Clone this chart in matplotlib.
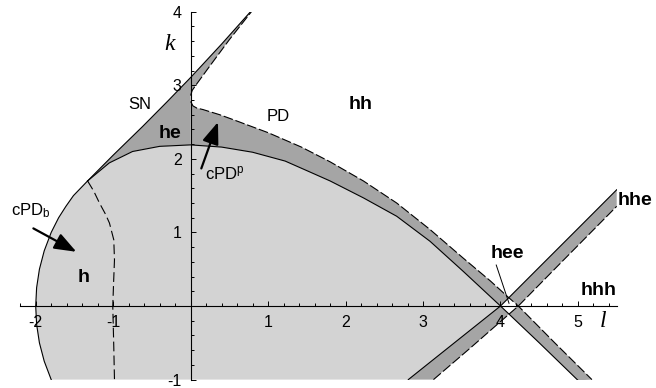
import numpy as np
import matplotlib.pyplot as plt
from matplotlib.path import Path
from matplotlib.patches import PathPatch, Polygon
from matplotlib.ticker import MultipleLocator

plt.rcParams['font.family'] = ['Liberation Sans', 'DejaVu Sans']
plt.rcParams['mathtext.default'] = 'regular'
plt.rcParams['lines.scale_dashes'] = False

# boundary curves in the (l, k) plane
# left arc of the h region
arc_l = [-1.80, -1.89, -1.952, -1.988, -2.0, -1.988, -1.952, -1.89, -1.80, -1.704, -1.61, -1.513, -1.33]
arc_k = [-1.0, -0.75, -0.5, -0.25, 0.0, 0.25, 0.5, 0.75, 1.0, 1.2, 1.355, 1.5, 1.70]

# saddle-node line
sn_l = [-1.33, -1.0, -0.62, -0.3, 0.0, 0.4, 0.79]
sn_k = [1.70, 2.05, 2.44, 2.78, 3.106, 3.56, 4.02]

# upper edge of the h region (solid)
sa_l = [-1.33, -1.05, -0.75, -0.4, 0.0, 0.4, 0.8, 1.22, 1.5, 1.8, 2.23, 2.66, 3.09, 3.52, 4.0, 4.5, 5.0]
sa_k = [1.70, 1.945, 2.10, 2.17, 2.19, 2.16, 2.09, 1.97, 1.84, 1.70, 1.47, 1.22, 0.88, 0.47, 0.0, -0.50, -1.01]

# period doubling curve PD (dashed)
pd_l = [0.0, 0.03, 0.08, 0.16, 0.375, 0.57, 1.0, 1.43, 1.8, 2.23, 2.66, 3.09, 3.52, 3.87, 4.1, 4.23, 4.7, 5.18]
pd_k = [2.78, 2.72, 2.69, 2.67, 2.60, 2.525, 2.356, 2.16, 1.96, 1.70, 1.40, 1.04, 0.65, 0.34, 0.12, 0.0, -0.50, -1.0]

# dashed curve next to SN
up_l = [0.0, 0.02, 0.08, 0.25, 0.50, 0.80]
up_k = [2.86, 2.93, 3.02, 3.265, 3.62, 4.02]

# second band through l = 4 (solid and dashed edges)
sb_l = [2.81, 3.2, 3.6, 4.0, 4.5, 5.0, 5.5]
sb_k = [-1.0, -0.672, -0.336, 0.0, 0.527, 1.053, 1.58]
db_l = [3.135, 3.6, 4.23, 4.8, 5.5]
db_k = [-1.0, -0.58, 0.0, 0.61, 1.355]

# cPD_b curve
cb_l = [-1.33, -1.25, -1.177, -1.10, -1.048, -0.992, -0.983, -0.995, -1.005, -0.992, -0.983]
cb_k = [1.70, 1.56, 1.40, 1.25, 1.128, 0.90, 0.628, 0.30, 0.0, -0.555, -1.0]

LIGHT = '#d3d3d3'
DARK = '#a5a5a5'


def pts(l, k):
    return np.column_stack([l, k])


def area(p):
    x, y = p[:, 0], p[:, 1]
    return 0.5 * np.sum(x * np.roll(y, -1) - np.roll(x, -1) * y)


arc = pts(arc_l, arc_k)
sn = pts(sn_l, sn_k)
sa = pts(sa_l, sa_k)
pd = pts(pd_l, pd_k)
up = pts(up_l, up_k)
sb = pts(sb_l, sb_k)
db = pts(db_l, db_k)

fig = plt.figure(figsize=(6.56, 3.88), dpi=100)
ax = fig.add_axes([20.2 / 656, 8.4 / 388, 596.5 / 656, 367.9 / 388])
ax.set_xlim(-2.2, 5.5)
ax.set_ylim(-1, 4)

# he region left of the k axis
he = np.vstack([sn, up[::-1], sa[sa[:, 0] <= 0][::-1]])
ax.add_patch(Polygon(he, closed=True, facecolor=DARK, edgecolor='none'))

# h region
h = np.vstack([arc, sa[(sa[:, 0] > -1.33) & (sa[:, 0] <= 4.0)],
               sb[sb[:, 0] < 4.0][::-1]])
ax.add_patch(Polygon(h, closed=True, facecolor=LIGHT, edgecolor='none'))

# the two bands, opposite orientation so their overlap stays empty
band_a = np.vstack([pd, sa[sa[:, 0] >= 0][::-1]])
band_b = np.vstack([sb, db[::-1]])
if np.sign(area(band_a)) == np.sign(area(band_b)):
    band_b = band_b[::-1]
verts = np.vstack([band_a, band_a[:1], band_b, band_b[:1]])
codes = ([Path.MOVETO] + [Path.LINETO] * (len(band_a) - 1) + [Path.CLOSEPOLY]
         + [Path.MOVETO] + [Path.LINETO] * (len(band_b) - 1) + [Path.CLOSEPOLY])
ax.add_patch(PathPatch(Path(verts, codes), facecolor=DARK, edgecolor='none'))

# boundary lines
lw = 0.8
ax.plot(arc_l, arc_k, color='black', lw=lw)
ax.plot(sn_l, sn_k, color='black', lw=lw)
ax.plot(sa_l, sa_k, color='black', lw=lw)
ax.plot(sb_l, sb_k, color='black', lw=lw)
dash = (0, (7, 2))
ax.plot(pd_l, pd_k, color='black', lw=lw, linestyle=dash)
ax.plot(up_l, up_k, color='black', lw=lw, linestyle=dash)
ax.plot(db_l, db_k, color='black', lw=lw, linestyle=dash)
ax.plot(cb_l, cb_k, color='black', lw=lw, linestyle=(0, (7, 3)))

# axes through the origin
for side in ['top', 'right']:
    ax.spines[side].set_visible(False)
ax.spines['left'].set_position(('data', 0))
ax.spines['bottom'].set_position(('data', 0))
for side in ['left', 'bottom']:
    ax.spines[side].set_linewidth(0.8)
    ax.spines[side].set_zorder(5)
ax.patch.set_visible(False)

ax.set_xticks([-2, -1, 1, 2, 3, 4, 5])
ax.set_xticklabels(['-2', '-1', '1', '2', '3', '4', '5'])
ax.set_yticks([-1, 1, 2, 3, 4])
ax.set_yticklabels(['-1', '1', '2', '3', '4'])
ax.xaxis.set_minor_locator(MultipleLocator(0.2))
ax.yaxis.set_minor_locator(MultipleLocator(0.2))
ax.tick_params(which='both', direction='in', width=0.7, color='black')
ax.tick_params(which='major', length=3.6, labelsize=11.5, pad=6.5)
ax.tick_params(which='minor', length=2.2)

# axis names
ax.text(-0.27, 3.55, 'k', family='Liberation Serif', style='italic', fontsize=17,
        ha='center', va='center')
ax.text(5.32, -0.21, 'l', family='Liberation Serif', style='italic', fontsize=17,
        ha='center', va='center')

# curve names
ax.text(-0.66, 2.745, 'SN', fontsize=12, ha='center', va='center')
ax.text(1.13, 2.57, 'PD', fontsize=12, ha='center', va='center')
ax.text(-2.06, 1.30, 'cPD$_b$', fontsize=12, ha='center', va='center')
ax.text(0.44, 1.80, 'cPD$^p$', fontsize=12, ha='center', va='center')

# region names
bold = dict(fontsize=14, fontweight='bold', ha='center', va='center')
ax.text(-0.26, 2.34, 'he', **bold)
ax.text(2.2, 2.745, 'hh', **bold)
ax.text(-1.38, 0.39, 'h', **bold)
ax.text(4.09, 0.716, 'hee', **bold)
ax.text(5.73, 1.44, 'hhe', **bold)
ax.text(5.27, 0.217, 'hhh', **bold)

# pointers
arrow = dict(arrowstyle='-|>,head_length=0.95,head_width=0.36', mutation_scale=14,
             lw=1.6, color='black', shrinkA=0, shrinkB=0)
ax.annotate('', xy=(-1.475, 0.737), xytext=(-2.03, 1.055), arrowprops=arrow)
ax.annotate('', xy=(0.353, 2.50), xytext=(0.138, 1.87), arrowprops=arrow)
ax.plot([3.945, 4.11], [0.557, 0.037], color='black', lw=0.7)

fig.savefig('out.png', dpi=100)
